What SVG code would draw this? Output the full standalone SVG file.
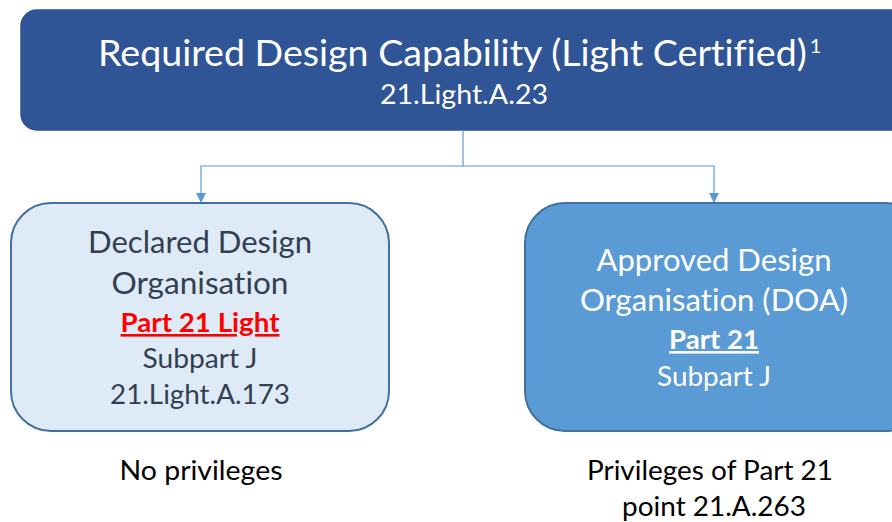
<svg xmlns="http://www.w3.org/2000/svg" width="892" height="522" viewBox="0 0 892 522">
<defs>
<style>
text{font-family:Lato,"Liberation Sans",sans-serif;text-anchor:middle;font-variant-ligatures:none}
.conn{fill:none;stroke:#5B9BD5;stroke-width:1.2}
.dark{fill:#333F50}
.white{fill:#FFFFFF}
.blk{fill:#000000}
</style>
<marker id="arr" viewBox="0 0 10 10" refX="10" refY="5" markerWidth="10" markerHeight="10" markerUnits="userSpaceOnUse" orient="auto">
<path d="M0,0 L10,5 L0,10 z" fill="#5B9BD5"/>
</marker>
</defs>
<rect width="892" height="522" fill="#FFFFFF"/>
<g id="top">
<rect x="21" y="10" width="900" height="120" rx="16" fill="#2F5597" stroke="#2F528F" stroke-width="1.5"/>
<text class="white" x="98" y="66" font-size="37.6" style="text-anchor:start">Required Design Capability (Light Certified)<tspan dx="3" dy="-13" font-size="20">1</tspan></text>
<text class="white" x="464" y="104" font-size="26" textLength="168" lengthAdjust="spacingAndGlyphs">21.Light.A.23</text>
</g>
<g id="connectors">
<path class="conn" d="M463,130 V166 H201 V203" marker-end="url(#arr)"/>
<path class="conn" d="M463,166 H714 V203" marker-end="url(#arr)"/>
</g>
<g id="declared">
<rect x="11" y="203" width="378" height="228" rx="40" fill="#DEEBF7" stroke="#41719C" stroke-width="2"/>
<text class="dark" x="200" y="253" font-size="30" textLength="224" lengthAdjust="spacingAndGlyphs">Declared Design</text>
<text class="dark" x="200" y="294" font-size="30" textLength="177" lengthAdjust="spacingAndGlyphs">Organisation</text>
<text x="200" y="332" font-size="26" font-weight="bold" fill="#FF0000" text-decoration="underline" textLength="159" lengthAdjust="spacingAndGlyphs">Part 21 Light</text>
<text class="dark" x="200" y="368" font-size="26" textLength="115" lengthAdjust="spacingAndGlyphs">Subpart J</text>
<text class="dark" x="200" y="404" font-size="26" textLength="180" lengthAdjust="spacingAndGlyphs">21.Light.A.173</text>
</g>
<g id="approved">
<rect x="525" y="203" width="400" height="228" rx="40" fill="#5B9BD5" stroke="#41719C" stroke-width="2"/>
<text class="white" x="714" y="271" font-size="30" textLength="235" lengthAdjust="spacingAndGlyphs">Approved Design</text>
<text class="white" x="714" y="311" font-size="30" textLength="268" lengthAdjust="spacingAndGlyphs">Organisation (DOA)</text>
<text class="white" x="714" y="349" font-size="26" font-weight="bold" text-decoration="underline" textLength="90" lengthAdjust="spacingAndGlyphs">Part 21</text>
<text class="white" x="714" y="386" font-size="26" textLength="114" lengthAdjust="spacingAndGlyphs">Subpart J</text>
</g>
<g id="labels">
<text class="blk" x="201" y="480" font-size="27" textLength="163" lengthAdjust="spacingAndGlyphs">No privileges</text>
<text class="blk" x="710" y="480" font-size="27" textLength="246" lengthAdjust="spacingAndGlyphs">Privileges of Part 21</text>
<text class="blk" x="714" y="516" font-size="27" textLength="184" lengthAdjust="spacingAndGlyphs">point 21.A.263</text>
</g>
</svg>
